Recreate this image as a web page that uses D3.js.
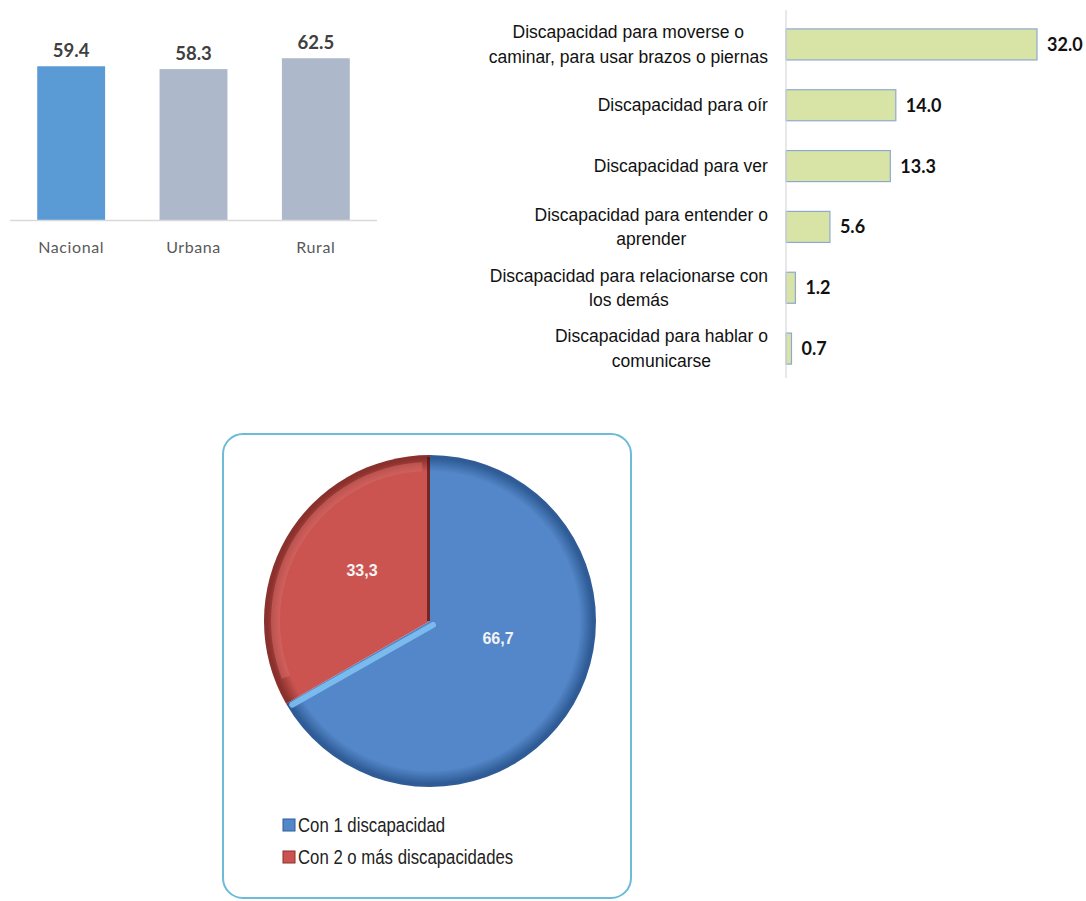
<!DOCTYPE html>
<html><head><meta charset="utf-8">
<script src="https://cdn.jsdelivr.net/npm/d3@7"></script>
<style>
html,body{margin:0;padding:0;background:#fff;}
svg{display:block;}
</style></head>
<body>
<svg id="chart" width="1086" height="901"></svg>
<script>
// ---- Data ----
const areaCategories = ["Nacional", "Urbana", "Rural"];
const areaValues = [59.4, 58.3, 62.5];
const areaLabels = ["59.4", "58.3", "62.5"];

const typeCategories = [
  ["Discapacidad para moverse o", "caminar, para usar brazos o piernas"],
  ["Discapacidad para oír"],
  ["Discapacidad para ver"],
  ["Discapacidad para entender o", "aprender"],
  ["Discapacidad para relacionarse con", "los demás"],
  ["Discapacidad para hablar o", "comunicarse"]
];
const typeValues = [32.0, 14.0, 13.3, 5.6, 1.2, 0.7];
const typeLabels = ["32.0", "14.0", "13.3", "5.6", "1.2", "0.7"];

const pieCategories = ["Con 1 discapacidad", "Con 2 o más discapacidades"];
const pieValues = [66.7, 33.3];
const pieLabels = ["66,7", "33,3"];

const svg = d3.select("#chart");
const defs = svg.append("defs");

// ---- Chart 1: vertical bars ----
const g1 = svg.append("g");
const x1 = d3.scaleBand().domain(areaCategories).range([10, 377]).paddingInner(0.445).paddingOuter(0.2225);
const y1 = d3.scaleLinear().domain([0, 85]).range([220, 0]);
const barColors1 = ["#5b9bd5", "#adb9ca", "#adb9ca"];

g1.selectAll("rect").data(areaValues).join("rect")
  .attr("x", (d, i) => x1(areaCategories[i]))
  .attr("y", d => y1(d))
  .attr("width", x1.bandwidth())
  .attr("height", d => y1(0) - y1(d))
  .attr("fill", (d, i) => barColors1[i]);

g1.append("line").attr("x1", 10).attr("x2", 377).attr("y1", y1(0) + 0.5).attr("y2", y1(0) + 0.5)
  .attr("stroke", "#d9d9d9").attr("stroke-width", 1.5);

g1.selectAll("text.val").data(areaValues).join("text").attr("class", "val")
  .attr("x", (d, i) => x1(areaCategories[i]) + x1.bandwidth() / 2)
  .attr("y", d => y1(d) - 9)
  .attr("text-anchor", "middle")
  .attr("font-family", "Lato, 'Open Sans', sans-serif")
  .attr("font-weight", "bold").attr("font-size", 18.5).attr("fill", "#404040")
  .text((d, i) => areaLabels[i]);

g1.selectAll("text.cat").data(areaCategories).join("text").attr("class", "cat")
  .attr("x", d => x1(d) + x1.bandwidth() / 2)
  .attr("y", 253)
  .attr("text-anchor", "middle")
  .attr("font-family", "Lato, 'Open Sans', sans-serif")
  .attr("font-size", 16).attr("letter-spacing", 0.6).attr("fill", "#595959")
  .text(d => d);

// ---- Chart 2: horizontal bars ----
const g2 = svg.append("g");
const y2 = d3.scaleBand().domain(d3.range(typeValues.length)).range([14, 379]).paddingInner(0.49).paddingOuter(0.245);
const x2 = d3.scaleLinear().domain([0, 32]).range([786, 1037]);

g2.selectAll("rect").data(typeValues).join("rect")
  .attr("x", x2(0))
  .attr("y", (d, i) => y2(i))
  .attr("width", d => x2(d) - x2(0))
  .attr("height", y2.bandwidth())
  .attr("fill", "#d7e4a6")
  .attr("stroke", "#8ea9cf").attr("stroke-width", 1.2);

g2.append("line").attr("x1", 786).attr("x2", 786).attr("y1", 10).attr("y2", 378)
  .attr("stroke", "#d9d9d9").attr("stroke-width", 1.2);

g2.selectAll("text.val").data(typeValues).join("text").attr("class", "val")
  .attr("x", d => x2(d) + 10)
  .attr("y", (d, i) => y2(i) + y2.bandwidth() / 2)
  .attr("dy", "0.36em")
  .attr("font-family", "Lato, 'Open Sans', sans-serif")
  .attr("font-weight", "bold").attr("font-size", 18).attr("fill", "#111")
  .text((d, i) => typeLabels[i]);

typeCategories.forEach((lines, i) => {
  const cy = y2(i) + y2.bandwidth() / 2;
  const t = g2.append("text")
    .attr("text-anchor", "middle")
    .attr("font-family", "'Liberation Sans', Arial, sans-serif")
    .attr("font-size", 17.5).attr("fill", "#111");
  const lh = 24.5;
  lines.forEach((ln, k) => {
    t.append("tspan").attr("x", 0)
      .attr("y", cy + (k - (lines.length - 1) / 2) * lh)
      .attr("dy", "0.35em").text(ln);
  });
  const bb = t.node().getBBox();
  t.attr("transform", `translate(${768 - bb.width / 2},0)`);
});

// ---- Chart 3: pie ----
const g3 = svg.append("g");
g3.append("rect").attr("x", 223).attr("y", 434).attr("width", 408).attr("height", 464)
  .attr("rx", 20).attr("fill", "#fff").attr("stroke", "#6cbbd9").attr("stroke-width", 2);

const cx = 430, cy = 621, R = 166;
const pieColors = [
  {base: "#5487c9", dark: "#2f5c96", light: "#6c9ad6"},
  {base: "#cb5451", dark: "#8a302d", light: "#e7807b"}
];
pieColors.forEach((c, i) => {
  const rg = defs.append("radialGradient").attr("id", "pg" + i)
    .attr("gradientUnits", "userSpaceOnUse").attr("cx", 0).attr("cy", 0).attr("r", R);
  rg.append("stop").attr("offset", "0%").attr("stop-color", c.base);
  rg.append("stop").attr("offset", "90%").attr("stop-color", c.base);
  rg.append("stop").attr("offset", "98%").attr("stop-color", c.dark);
  rg.append("stop").attr("offset", "100%").attr("stop-color", c.dark);
});

const pie = d3.pie().sort(null).value(d => d);
const arcs = pie(pieValues);
const arc = d3.arc().innerRadius(0).outerRadius(R);
const pg = g3.append("g").attr("transform", `translate(${cx},${cy})`);
pg.selectAll("path.slice").data(arcs).join("path").attr("class", "slice")
  .attr("d", arc).attr("fill", (d, i) => `url(#pg${i})`);

// bevel highlights
const redArc = arcs[1];
const hiArc = d3.arc().innerRadius(R - 16).outerRadius(R - 7);
pg.append("path").attr("d", hiArc({startAngle: redArc.startAngle + 0.15, endAngle: redArc.endAngle - 0.05}))
  .attr("fill", "#de716c").attr("opacity", 0.45);
// dark edge along the red slice's vertical side
pg.append("line").attr("x1", -1.5).attr("y1", 0).attr("x2", -1.5).attr("y2", -R + 2)
  .attr("stroke", "#4a1414").attr("stroke-width", 3).attr("opacity", 0.7);
// light blue strip along blue slice's boundary
const a = arcs[0].endAngle;
const ux = Math.sin(a), uy = -Math.cos(a);
pg.append("line")
  .attr("x1", 3).attr("y1", 4)
  .attr("x2", ux * (R - 6) + 1).attr("y2", uy * (R - 6) + 4)
  .attr("stroke", "#7fc0f2").attr("stroke-width", 6).attr("stroke-linecap", "round").attr("opacity", 0.9);

const labelPos = [[498, 638], [362, 570]];
g3.selectAll("text.pl").data(pieLabels).join("text").attr("class", "pl")
  .attr("x", (d, i) => labelPos[i][0]).attr("y", (d, i) => labelPos[i][1])
  .attr("dy", "0.36em").attr("text-anchor", "middle")
  .attr("font-family", "'Liberation Sans', Arial, sans-serif")
  .attr("font-weight", "bold").attr("font-size", 16).attr("fill", "#f3f3f3")
  .text(d => d);

// legend
const legY = [825, 857];
const leg = g3.append("g");
pieCategories.forEach((c, i) => {
  leg.append("rect").attr("x", 283).attr("y", legY[i] - 6).attr("width", 12).attr("height", 12)
    .attr("fill", pieColors[i].base).attr("stroke", pieColors[i].dark).attr("stroke-width", 1);
  leg.append("text")
    .attr("transform", `translate(298,${legY[i]}) scale(0.86,1)`)
    .attr("dy", "0.35em")
    .attr("font-family", "'Liberation Sans', Arial, sans-serif")
    .attr("font-size", 19.5).attr("fill", "#222")
    .text(c);
});
</script>
</body></html>
